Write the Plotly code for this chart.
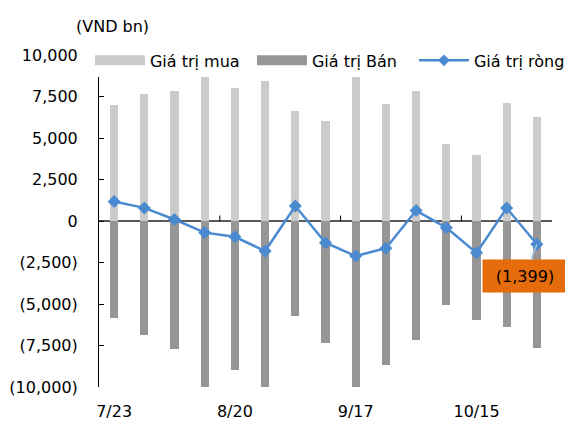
import plotly.graph_objects as go

categories = ["7/23", "7/30", "8/6", "8/13", "8/20", "8/27", "9/3", "9/10",
              "9/17", "9/24", "10/1", "10/8", "10/15", "10/22", "10/29"]
buy_values = [7000, 7630, 7810, 9700, 8010, 8460, 6600, 6010,
              8780, 7040, 7810, 4640, 4000, 7130, 6250]
sell_values = [-5840, -6840, -7730, -10400, -8950, -10270, -5700, -7320,
               -10890, -8690, -7190, -5040, -5940, -6360, -7650]
net_values = [1180, 790, 90, -700, -950, -1810, 905, -1310,
              -2110, -1640, 630, -400, -1920, 780, -1399]
x_tick_labels = ["7/23", "8/20", "9/17", "10/15"]
y_tick_values = [-10000, -7500, -5000, -2500, 0, 2500, 5000, 7500, 10000]
y_tick_text = ["(10,000)", "(7,500)", "(5,000)", "(2,500)", "0",
               "2,500", "5,000", "7,500", "10,000"]

FONT = "DejaVu Sans"
LIGHT = "#CBCBCB"
DARK = "#969696"
BLUE = "#4A8AD0"

fig = go.Figure()
fig.add_trace(go.Bar(x=categories, y=buy_values, name="Giá trị mua",
                     marker=dict(color=LIGHT, line=dict(width=0)),
                     width=0.27, showlegend=False))
fig.add_trace(go.Bar(x=categories, y=sell_values, name="Giá trị Bán",
                     marker=dict(color=DARK, line=dict(width=0)),
                     width=0.27, showlegend=False))
fig.add_trace(go.Scatter(x=categories, y=net_values, name="Giá trị ròng",
                         mode="lines+markers",
                         line=dict(color=BLUE, width=2.5),
                         marker=dict(symbol="diamond", size=10, color=BLUE),
                         showlegend=False))
# legend entries
fig.add_trace(go.Scatter(x=[None], y=[None], mode="lines", name="Giá trị mua",
                         line=dict(color=LIGHT, width=10)))
fig.add_trace(go.Scatter(x=[None], y=[None], mode="lines", name="Giá trị Bán",
                         line=dict(color=DARK, width=10)))
fig.add_trace(go.Scatter(x=[None], y=[None], mode="lines+markers", name="Giá trị ròng",
                         line=dict(color=BLUE, width=2.5),
                         marker=dict(symbol="diamond", size=9, color=BLUE)))

# small tick marks on the zero line between category groups
for b in [3.5, 7.5, 11.5]:
    fig.add_shape(type="line", xref="x", yref="y", x0=b, x1=b, y0=0, y1=330,
                  line=dict(color="#000000", width=1))

fig.add_annotation(x=categories[-1], y=net_values[-1], xref="x", yref="y",
                   text="(1,399)", showarrow=True, arrowhead=0,
                   arrowcolor="#9DC3E6", arrowwidth=1.5, ax=-12, ay=32,
                   bgcolor="#E46C0A", borderpad=6,
                   font=dict(family=FONT, size=16, color="#000000"),
                   width=72, height=20, standoff=0, startstandoff=0)

fig.add_annotation(text="(VND bn)", xref="paper", yref="paper",
                   x=0.029, y=1.0, xanchor="center", yanchor="middle",
                   yshift=29, showarrow=False,
                   font=dict(family=FONT, size=16, color="#000000"))

fig.update_layout(
    width=565, height=416,
    margin=dict(l=91, r=21, t=47, b=37, autoexpand=False),
    paper_bgcolor="white", plot_bgcolor="white",
    barmode="relative", bargap=0,
    font=dict(family=FONT, size=16, color="#000000"),
    showlegend=True,
    legend=dict(orientation="h", x=-0.02, xanchor="left", y=1.035, yanchor="top",
                bgcolor="white", borderwidth=0, itemwidth=50,
                entrywidth=97, entrywidthmode="pixels",
                font=dict(family=FONT, size=16, color="#000000"),
                tracegroupgap=0, itemclick=False),
    xaxis=dict(type="category", range=[-0.5, 14.5], tickmode="array",
               tickvals=x_tick_labels, ticktext=x_tick_labels,
               showline=False, showgrid=False, ticks="", zeroline=False,
               ticklabelstandoff=13, automargin=False,
               tickfont=dict(family=FONT, size=16, color="#000000")),
    yaxis=dict(range=[-10000, 10000], tickmode="array",
               tickvals=y_tick_values, ticktext=y_tick_text,
               showline=True, linecolor="#000000", linewidth=1,
               ticks="inside", ticklen=5, tickcolor="#000000",
               showgrid=False, zeroline=True, zerolinecolor="#595959",
               zerolinewidth=1.5, ticklabelstandoff=17, automargin=False,
               tickfont=dict(family=FONT, size=16, color="#000000")),
)

fig.write_html("out.html")
